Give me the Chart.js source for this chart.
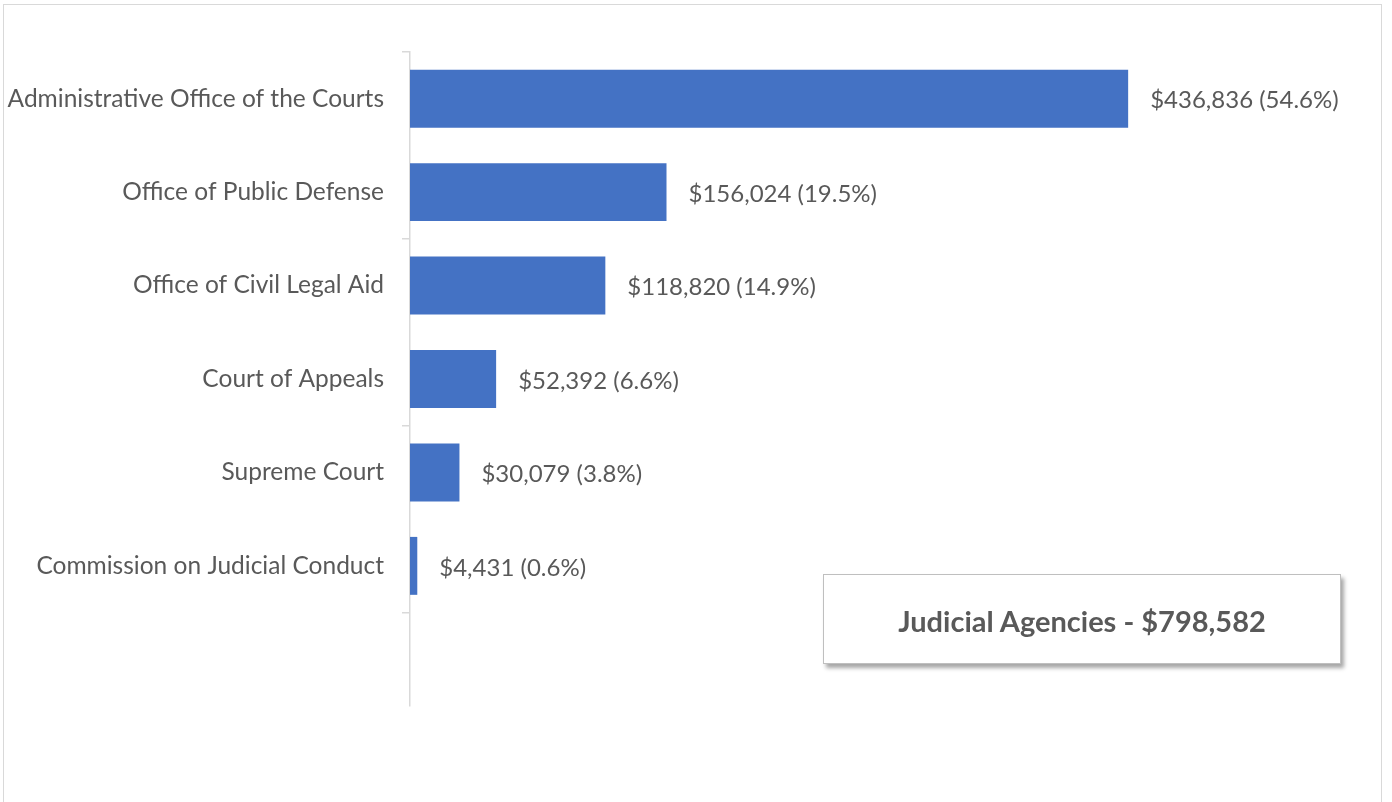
<!DOCTYPE html>
<html><head><meta charset="utf-8">
<script src="https://cdn.jsdelivr.net/npm/chart.js@4/dist/chart.umd.min.js"></script>
<style>
html,body{margin:0;padding:0;background:#fff;overflow:hidden;}
#wrap{position:relative;width:1392px;height:802px;}
#frame{position:absolute;left:3px;top:4px;width:1379px;height:820px;border:1.5px solid #d9d9d9;box-sizing:border-box;}
#c{position:absolute;left:0;top:0;}
#totalBox{position:absolute;left:823px;top:574px;width:518px;height:90px;box-sizing:border-box;border:1.5px solid #bfbfbf;background:#fff;
 box-shadow:3px 4px 4px rgba(0,0,0,0.35);display:flex;align-items:center;justify-content:center;
 font-family:Lato,"Noto Sans",sans-serif;font-weight:bold;font-size:29px;color:#595959;padding-top:2px;}
</style></head>
<body><div id="wrap">
<div id="frame"></div>
<canvas id="c" width="1392" height="802"></canvas>
<div id="totalBox"></div>
</div>
<script>
const categories = ["Administrative Office of the Courts","Office of Public Defense","Office of Civil Legal Aid","Court of Appeals","Supreme Court","Commission on Judicial Conduct",""];
const amounts = [436836,156024,118820,52392,30079,4431,null];
const percents = [54.6,19.5,14.9,6.6,3.8,0.6,null];
const totalLabel = "Judicial Agencies - $798,582";

document.getElementById('totalBox').textContent = totalLabel;

const FONT = 'Lato, "Noto Sans", sans-serif';
const fmt = v => '$' + v.toLocaleString('en-US');

const valueLabels = {
  id:'valueLabels',
  afterDatasetsDraw(chart){
    const ctx = chart.ctx;
    const meta = chart.getDatasetMeta(0);
    ctx.save();
    ctx.font = '24px ' + FONT;
    ctx.fillStyle = '#595959';
    ctx.textAlign = 'left';
    ctx.textBaseline = 'middle';
    meta.data.forEach((bar,i)=>{
      if (amounts[i] == null) return;
      ctx.fillText(fmt(amounts[i]) + ' (' + percents[i].toFixed(1) + '%)', bar.x + 22, bar.y + 2);
    });
    ctx.restore();
  }
};

new Chart(document.getElementById('c'), {
  type:'bar',
  data:{labels:categories, datasets:[{data:amounts, backgroundColor:'#4472C4', barPercentage:0.62, categoryPercentage:1.0}]},
  options:{
    indexAxis:'y', responsive:false, animation:false,
    layout:{padding:{left:0, top:52, bottom:96, right:160}},
    plugins:{legend:{display:false}, tooltip:{enabled:false}},
    scales:{
      x:{display:false, min:0, max:500000},
      y:{
        afterFit(scale){ scale.width = 410; },
        grid:{drawOnChartArea:false, tickLength:8, lineWidth:1.5,
          color:(c)=> (c.index % 2 === 0 && c.index < 7) ? '#d9d9d9' : 'rgba(0,0,0,0)'},
        border:{color:'#d9d9d9', width:1.5},
        ticks:{color:'#595959', font:{family:FONT, size:24.5}, padding:18}
      }
    }
  },
  plugins:[valueLabels]
});
</script>
</body></html>
